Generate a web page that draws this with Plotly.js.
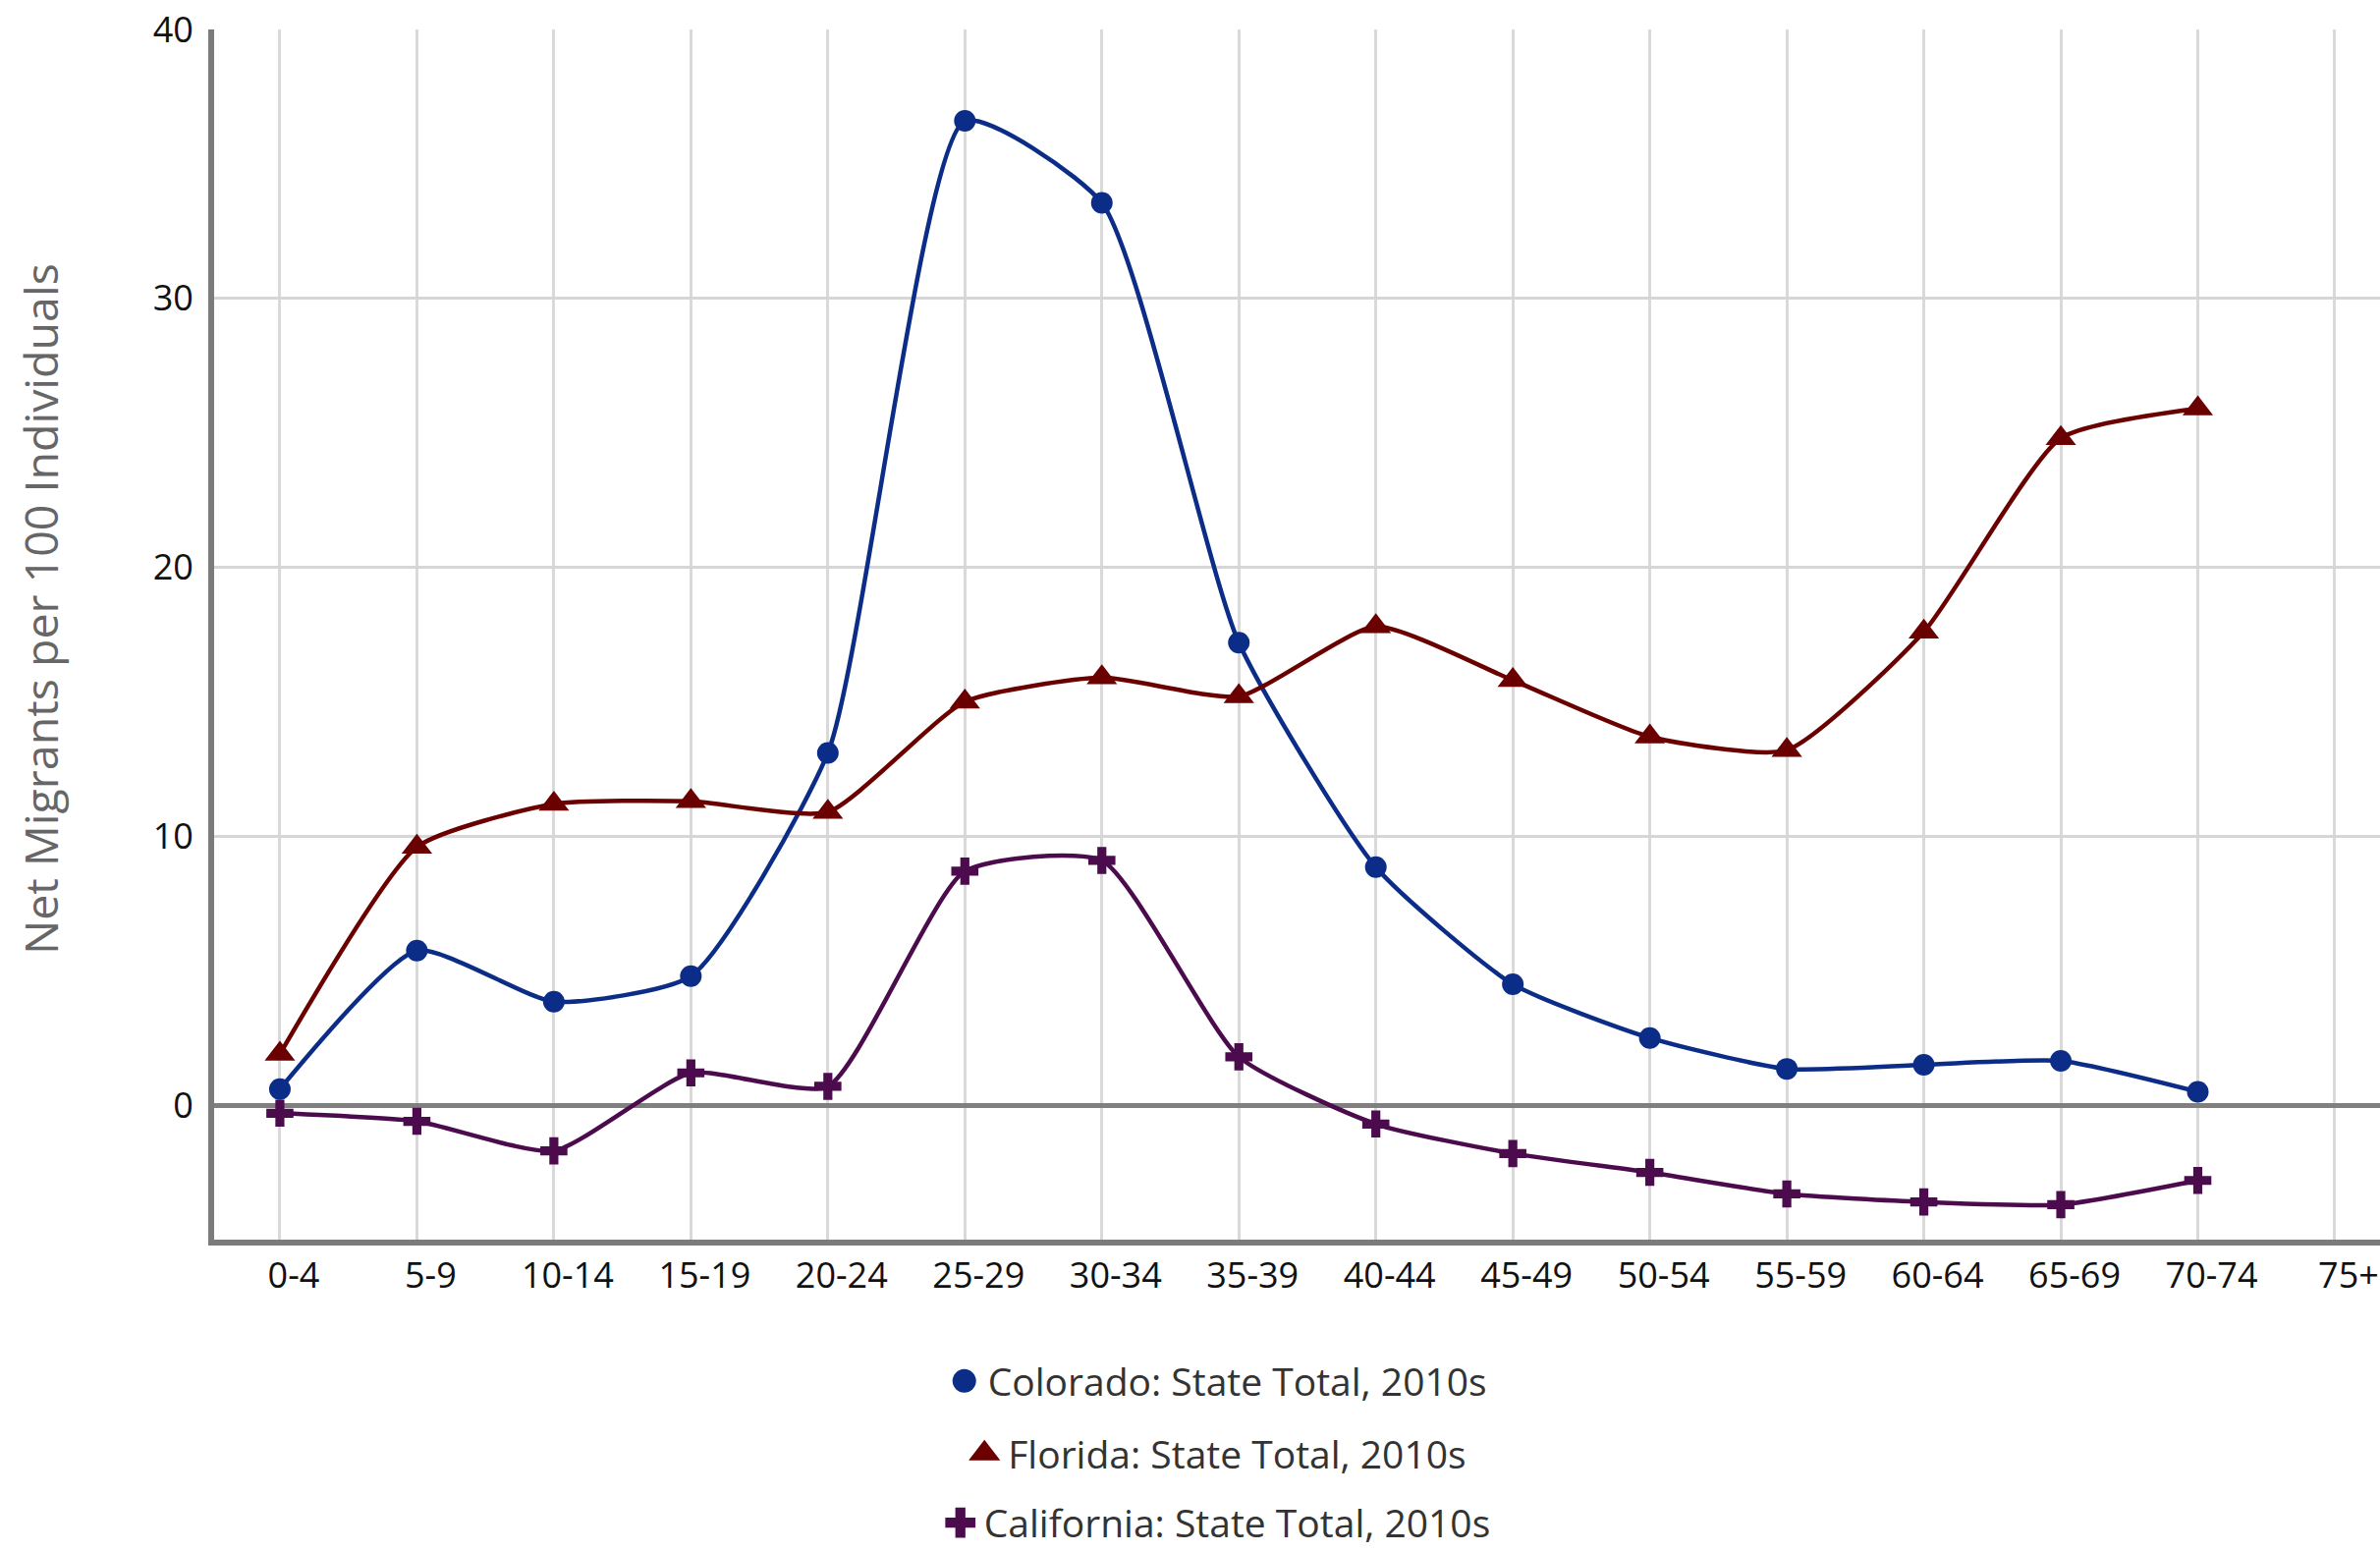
<!DOCTYPE html>
<html>
<head>
<meta charset="utf-8">
<script src="https://cdn.plot.ly/plotly-3.0.1.min.js"></script>
<style>
  html, body { margin: 0; padding: 0; background: #ffffff; }
  #chart { width: 2423px; height: 1580px; }
</style>
</head>
<body>
<div id="chart"></div>
<script>
// Age groups (x categories)
const categories = ['0-4','5-9','10-14','15-19','20-24','25-29','30-34','35-39','40-44','45-49','50-54','55-59','60-64','65-69','70-74','75+'];
// Net migrants per 100 individuals, by age group
const colorado   = [0.6, 5.75, 3.85, 4.8, 13.1, 36.6, 33.55, 17.2, 8.85, 4.5, 2.5, 1.35, 1.5, 1.65, 0.5];
const florida    = [1.9, 9.6, 11.2, 11.3, 10.9, 15.0, 15.9, 15.2, 17.8, 15.8, 13.7, 13.2, 17.6, 24.8, 25.9];
const california = [-0.3, -0.6, -1.7, 1.2, 0.7, 8.7, 9.1, 1.8, -0.7, -1.8, -2.5, -3.3, -3.6, -3.7, -2.8];
// Series names
const seriesNames = ['Colorado: State Total, 2010s', 'Florida: State Total, 2010s', 'California: State Total, 2010s'];
const yTicks = [0, 10, 20, 30, 40];
const yTitle = 'Net Migrants per 100 Individuals';

const colors = ['#0c2d87', '#6b0000', '#4b0b4d'];
const symbols = ['circle', 'triangle-up', 'cross'];
const sizes = [22, 27, 23];
const legendScale = [1.5, 1.75, 1.6];
const seriesData = [colorado, florida, california];

const traces = [];
seriesData.forEach((vals, i) => {
  traces.push({
    type: 'scatter',
    mode: 'lines+markers',
    x: categories.slice(0, vals.length),
    y: vals,
    name: seriesNames[i],
    showlegend: false,
    line: { color: colors[i], width: 4.5, shape: 'spline', smoothing: 0.55 },
    marker: { color: colors[i], symbol: symbols[i], size: sizes[i], line: { width: 0 } },
    hoverinfo: 'skip'
  });
});
// legend entries (marker only), one legend per item so each is centred
const legendYs = [-0.1169, -0.1769, -0.2340];
const legendKeys = ['legend', 'legend2', 'legend3'];
seriesData.forEach((vals, i) => {
  traces.push({
    type: 'scatter',
    mode: 'markers',
    x: [null],
    y: [null],
    name: seriesNames[i],
    legend: legendKeys[i],
    showlegend: true,
    marker: { color: colors[i], symbol: symbols[i], size: 16, line: { width: 0 } },
    hoverinfo: 'skip'
  });
});

const legendBase = (y) => ({
  x: 0.4645, xanchor: 'center', y: y, yanchor: 'middle',
  orientation: 'v',
  bgcolor: 'rgba(0,0,0,0)',
  font: { family: 'Open Sans, sans-serif', size: 39, color: '#333333' },
  itemclick: false, itemdoubleclick: false
});

const layout = {
  width: 2423,
  height: 1580,
  margin: { l: 218, r: 0, t: 30, b: 318, pad: 0, autoexpand: false },
  paper_bgcolor: '#ffffff',
  plot_bgcolor: '#ffffff',
  showlegend: true,
  hovermode: false,
  legend: legendBase(legendYs[0]),
  legend2: legendBase(legendYs[1]),
  legend3: legendBase(legendYs[2]),
  xaxis: {
    type: 'category',
    categoryorder: 'array',
    categoryarray: categories,
    range: [-0.48, 15.33],
    showgrid: true,
    gridcolor: '#d9d9d9',
    gridwidth: 3,
    showline: true,
    linecolor: '#7b7b7b',
    linewidth: 6,
    ticks: '',
    ticklabelstandoff: 0,
    ticklabelshift: 14,
    tickfont: { family: 'Open Sans, sans-serif', size: 36, color: '#111111' },
    zeroline: false,
    fixedrange: true
  },
  yaxis: {
    range: [-5, 40],
    tickvals: yTicks,
    ticktext: yTicks.map(String),
    showgrid: true,
    gridcolor: '#d6d6d6',
    gridwidth: 3,
    zeroline: true,
    zerolinecolor: '#808080',
    zerolinewidth: 5,
    showline: true,
    linecolor: '#7b7b7b',
    linewidth: 6,
    ticks: '',
    ticklabelstandoff: 8,
    tickfont: { family: 'Open Sans, sans-serif', size: 36, color: '#111111' },
    title: { text: yTitle, font: { family: 'Open Sans, sans-serif', size: 46.5, color: '#666666' }, standoff: 83 },
    automargin: false,
    fixedrange: true
  }
};

Plotly.newPlot('chart', traces, layout, { staticPlot: true, displayModeBar: false }).then(() => {
  // enlarge legend symbols (Plotly caps legend marker size at 16px)
  document.querySelectorAll('g.legendpoints path.scatterpts').forEach(p => {
    const trace = p.closest('g.traces');
    const txt = trace ? trace.textContent : '';
    let k = 1.5;
    seriesNames.forEach((n, i) => { if (txt.indexOf(n) >= 0) k = legendScale[i]; });
    const t = p.getAttribute('transform') || '';
    p.setAttribute('transform', 'translate(-4,0) ' + t + ' scale(' + k + ')');
  });
  // the reference centres its axis title slightly above the middle of the axis
  const yt = document.querySelector('.ytitle');
  if (yt) {
    const t = yt.getAttribute('transform') || '';
    yt.setAttribute('transform', 'translate(0,-26) ' + t);
  }
});
</script>
</body>
</html>
